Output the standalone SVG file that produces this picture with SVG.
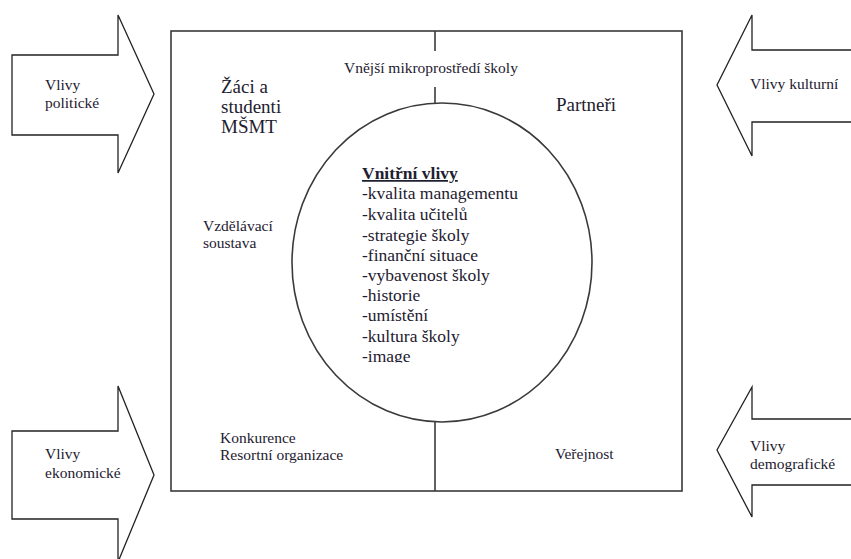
<svg xmlns="http://www.w3.org/2000/svg" width="851" height="559" viewBox="0 0 851 559">
<style>
text{font-family:"Liberation Serif","Times New Roman",serif;fill:#1e2030}
.s{font-size:15.5px}
.b{font-size:19px}
.l{font-size:17.5px}
.arrow{fill:#fff;stroke:#222;stroke-width:1.3;stroke-linejoin:miter}
.frame{fill:none;stroke:#3a3a3a;stroke-width:1.6}
.con{stroke:#3a3a3a;stroke-width:1.6;fill:none}
</style>
<defs>
<clipPath id="cut"><rect x="300" y="340" width="200" height="22.5"/></clipPath>
</defs>
<rect width="851" height="559" fill="#fff"/>
<g id="arrow-politicke">
<path class="arrow" d="M12,55 H118 V15 L154,94 L118,173 V135 H12 Z"/>
<text class="s" x="45" y="90">Vlivy</text>
<text class="s" x="45" y="108">politické</text>
</g>
<g id="arrow-ekonomicke">
<path class="arrow" d="M12,431 H118 V386 L154,475 L118,562 V519 H12 Z"/>
<text class="s" x="45" y="459">Vlivy</text>
<text class="s" x="45" y="478">ekonomické</text>
</g>
<g id="arrow-kulturni">
<path class="arrow" d="M860,50 H752 V15 L717,85 L752,156 V122 H860"/>
<text class="s" x="750" y="89">Vlivy kulturní</text>
</g>
<g id="arrow-demograficke">
<path class="arrow" d="M860,419 H752 V387 L717,450 L752,517 V485 H860"/>
<text class="s" x="750" y="451">Vlivy</text>
<text class="s" x="750" y="469">demografické</text>
</g>
<g id="school-frame">
<rect class="frame" x="171" y="31" width="511" height="460"/>
<text class="s" x="344" y="73">Vnější mikroprostředí školy</text>
<text class="b" x="221" y="93">Žáci a</text>
<text class="b" x="221" y="113">studenti</text>
<text class="b" x="221" y="133">MŠMT</text>
<text class="b" x="556" y="111">Partneři</text>
<text class="s" x="203" y="231">Vzdělávací</text>
<text class="s" x="203" y="248">soustava</text>
<text class="s" x="220" y="443">Konkurence</text>
<text class="s" x="220" y="460">Resortní organizace</text>
<text class="s" x="555" y="459">Veřejnost</text>
</g>
<g id="connectors">
<line class="con" x1="435" y1="31" x2="435" y2="51"/>
<line class="con" x1="435" y1="87" x2="435" y2="103"/>
<line class="con" x1="435" y1="422" x2="435" y2="491"/>
</g>
<g id="inner-circle">
<ellipse class="con" cx="442" cy="262.5" rx="150" ry="159.5"/>
<text class="l" x="362" y="179" font-weight="bold" text-decoration="underline">Vnitřní vlivy</text>
<text class="l" x="362" y="199">-kvalita managementu</text>
<text class="l" x="362" y="220">-kvalita učitelů</text>
<text class="l" x="362" y="241">-strategie školy</text>
<text class="l" x="362" y="261">-finanční situace</text>
<text class="l" x="362" y="281">-vybavenost školy</text>
<text class="l" x="362" y="301">-historie</text>
<text class="l" x="362" y="321">-umístění</text>
<text class="l" x="362" y="342">-kultura školy</text>
<text class="l" x="362" y="362" clip-path="url(#cut)">-image</text>
</g>
</svg>
